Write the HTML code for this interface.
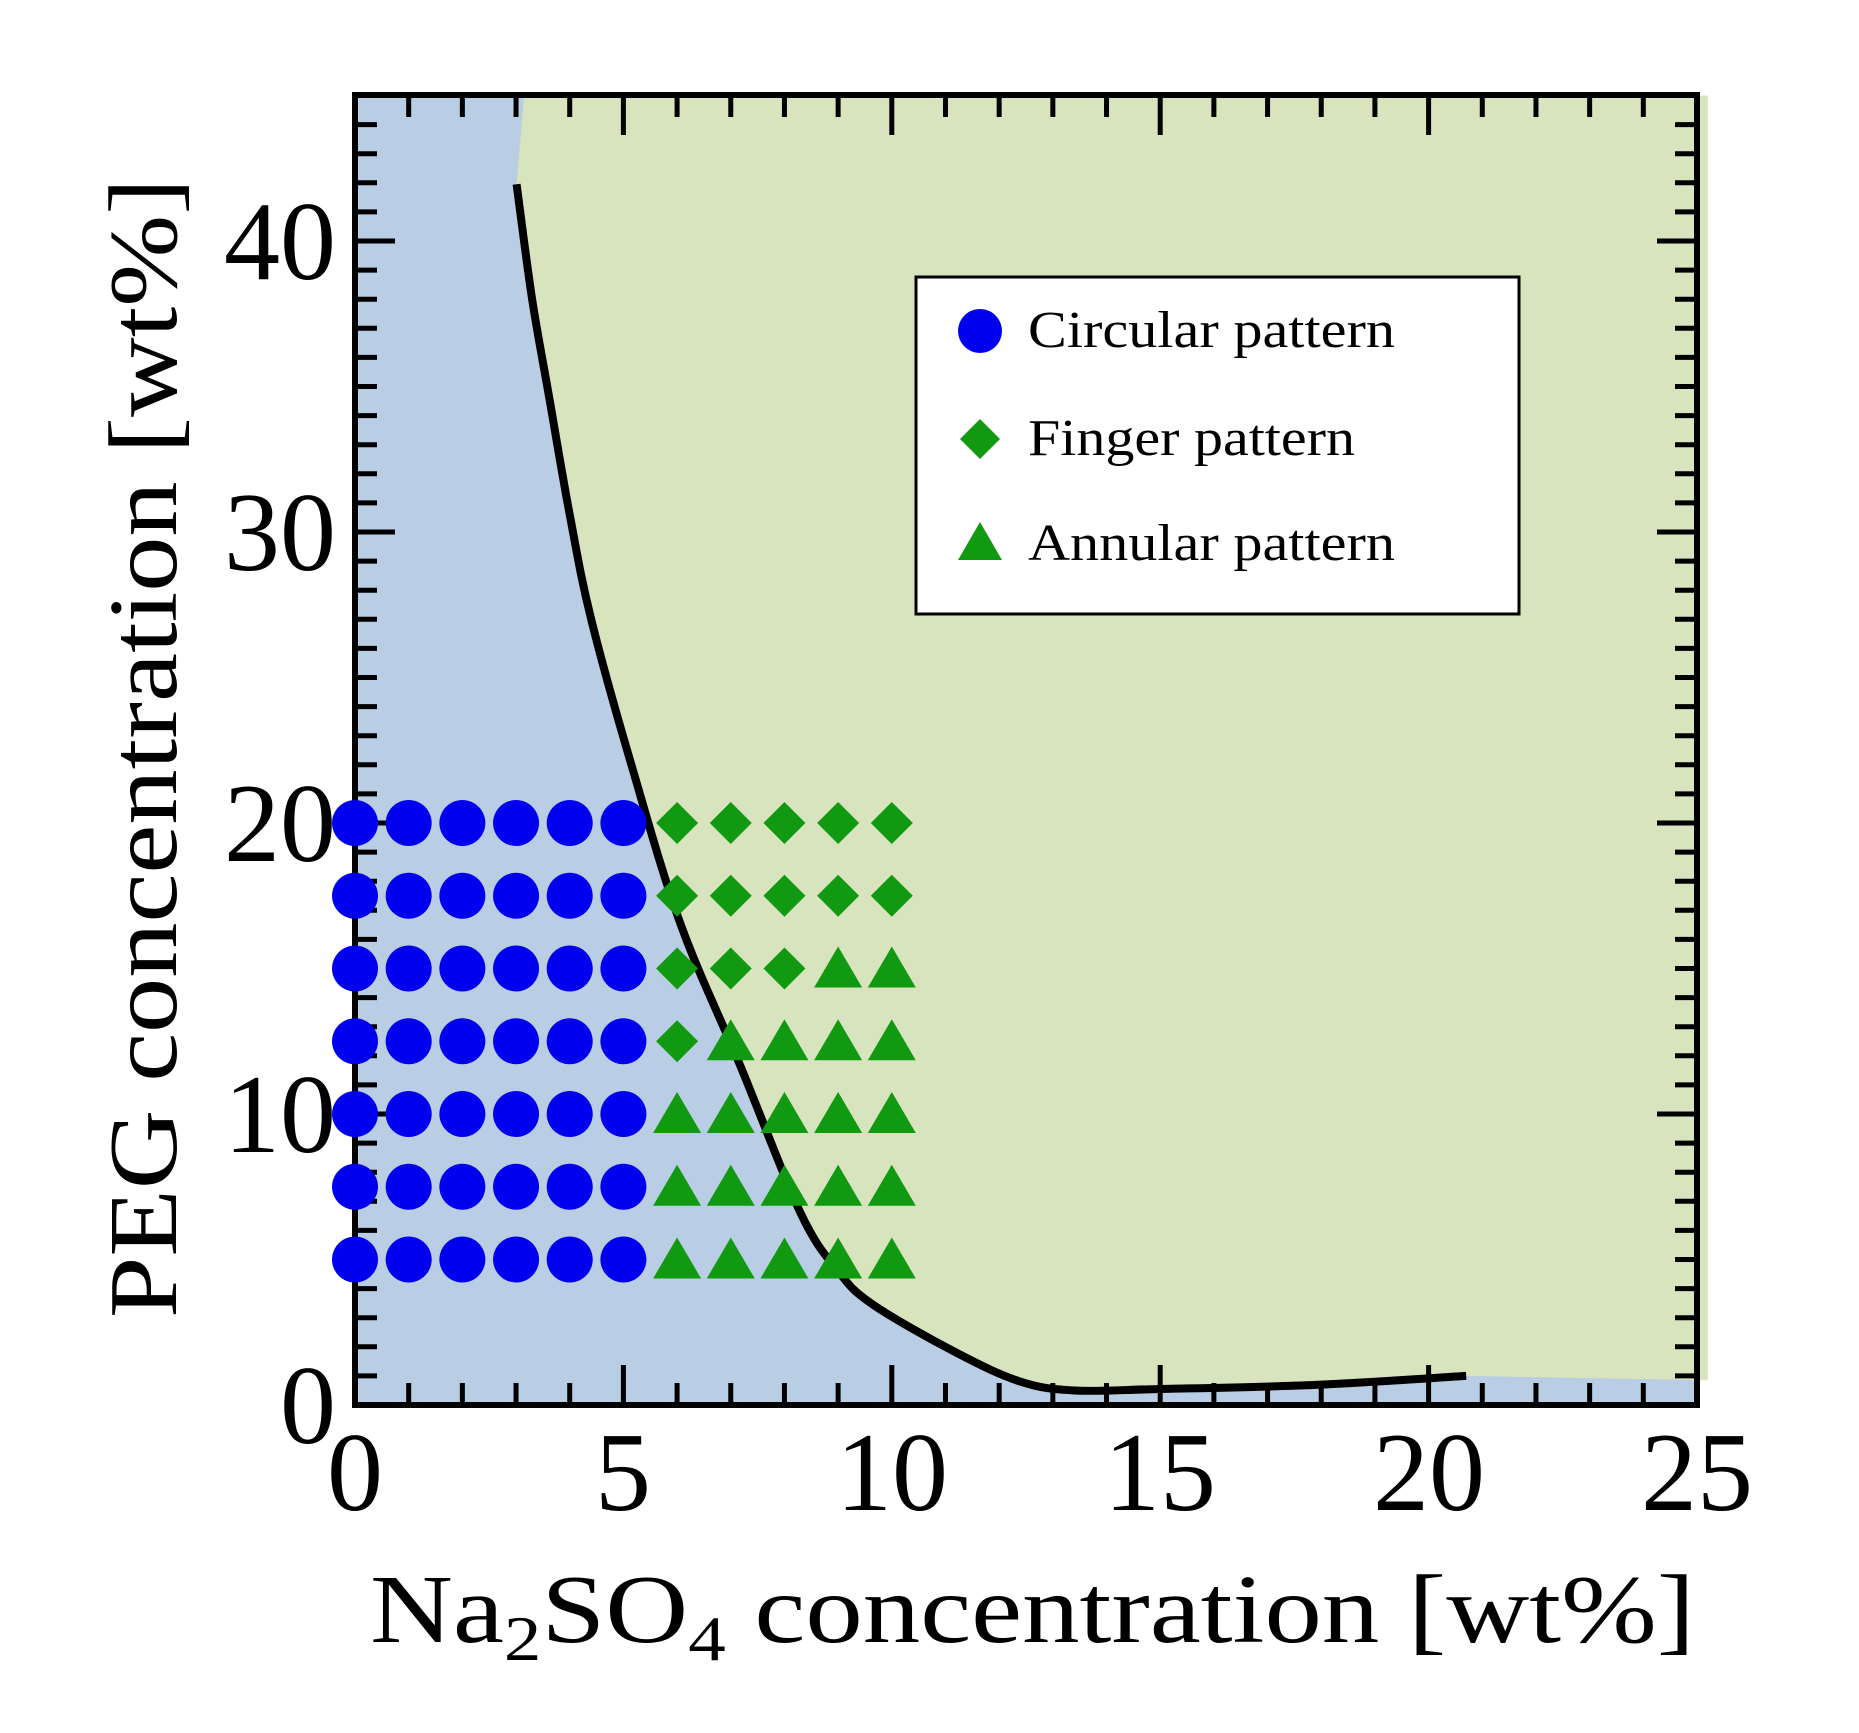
<!DOCTYPE html>
<html><head><meta charset="utf-8"><style>
html,body{margin:0;padding:0;background:#fff;}
svg{display:block;}
text{font-family:"Liberation Serif",serif;fill:#000;}
</style></head><body>
<svg id="s" width="1859" height="1733" viewBox="0 0 1859 1733" xmlns="http://www.w3.org/2000/svg">
<rect x="0" y="0" width="1859" height="1733" fill="#fff"/>
<g id="plot"></g>
<rect x="916" y="277" width="603" height="337" fill="#fff" stroke="#000" stroke-width="3"/>
<circle cx="980" cy="331" r="22" fill="#0000ee"/>
<polygon points="980,419 1000,439 980,459 960,439" fill="#119911"/>
<polygon points="980,522 1002,560 958,560" fill="#119911"/>
<text x="1028" y="347" font-size="52" textLength="367" lengthAdjust="spacingAndGlyphs">Circular pattern</text>
<text x="1028" y="455" font-size="52" textLength="327" lengthAdjust="spacingAndGlyphs">Finger pattern</text>
<text x="1028" y="560" font-size="52" textLength="367" lengthAdjust="spacingAndGlyphs">Annular pattern</text>
<g font-size="112" text-anchor="end">
<text x="336" y="1443">0</text>
<text x="336" y="1152">10</text>
<text x="336" y="861">20</text>
<text x="336" y="570">30</text>
<text x="336" y="279">40</text>
</g>
<g font-size="112" text-anchor="middle">
<text x="355" y="1510">0</text>
<text x="623" y="1510">5</text>
<text x="892" y="1510">10</text>
<text x="1160" y="1510">15</text>
<text x="1429" y="1510">20</text>
<text x="1697" y="1510">25</text>
</g>
<text x="370" y="1642" font-size="98" textLength="1325" lengthAdjust="spacingAndGlyphs">Na<tspan font-size="64" dy="18">2</tspan><tspan dy="-18">SO</tspan><tspan font-size="64" dy="18">4</tspan><tspan dy="-18"> concentration [wt%]</tspan></text>
<text transform="translate(176,1318) rotate(-90)" font-size="98" textLength="1140" lengthAdjust="spacingAndGlyphs">PEG concentration [wt%]</text>
</svg>
<script>
var NS="http://www.w3.org/2000/svg",g=document.getElementById("plot");
function X(v){return 355+v*53.68;}function Y(v){return 1405-v*29.1;}
function el(t,a){var e=document.createElementNS(NS,t);for(var k in a)e.setAttribute(k,a[k]);g.appendChild(e);return e;}
el("rect",{x:355,y:95,width:1342,height:1310,fill:"#b9cde4"});
var c=[[3.01,41.95],[3.3,38.0],[3.62,34.6],[4.0,30.6],[4.4,27.0],[5.18,21.8],[6.07,16.5],[7.19,11.6],[8.3,6.6],[9.0,4.6],[9.64,3.46],[11.2,1.8],[12.4,0.8],[13.4,0.5],[15,0.55],[17.9,0.69],[20.7,1.0]];
var d="M"+X(3.15)+","+Y(45);
c.forEach(function(p){d+=" L"+X(p[0]).toFixed(1)+","+Y(p[1]).toFixed(1);});
d+=" L"+X(25.2)+","+Y(0.85)+" L"+X(25.2)+","+Y(45)+"Z";
el("path",{d:d,fill:"#d7e4bd"});
var cd="M"+X(c[0][0])+","+Y(c[0][1]);
for(var i=0;i<c.length-1;i++){var p0=c[Math.max(0,i-1)],p1=c[i],p2=c[i+1],p3=c[Math.min(c.length-1,i+2)];
var a=[X(p1[0])+(X(p2[0])-X(p0[0]))/6,Y(p1[1])+(Y(p2[1])-Y(p0[1]))/6],b=[X(p2[0])-(X(p3[0])-X(p1[0]))/6,Y(p2[1])-(Y(p3[1])-Y(p1[1]))/6];
cd+=" C"+a[0].toFixed(1)+","+a[1].toFixed(1)+" "+b[0].toFixed(1)+","+b[1].toFixed(1)+" "+X(p2[0]).toFixed(1)+","+Y(p2[1]).toFixed(1);}
el("path",{d:cd,fill:"none",stroke:"#000","stroke-width":8});
for(var v=1;v<25;v++){var L=(v%5==0)?40:22,x=X(v);
el("line",{x1:x,y1:1405,x2:x,y2:1405-L,stroke:"#000","stroke-width":5});
el("line",{x1:x,y1:95,x2:x,y2:95+L,stroke:"#000","stroke-width":5});}
for(var v=1;v<45;v++){var L=(v%10==0)?40:22,y=Y(v);
el("line",{x1:355,y1:y,x2:355+L,y2:y,stroke:"#000","stroke-width":5});
el("line",{x1:1697,y1:y,x2:1697-L,y2:y,stroke:"#000","stroke-width":5});}
el("rect",{x:355,y:95,width:1342,height:1310,fill:"none",stroke:"#000","stroke-width":6});
var rows=[20,17.5,15,12.5,10,7.5,5],nd=[5,5,3,1,0,0,0];
rows.forEach(function(yv,ri){
 for(var xv=0;xv<=5;xv++)el("circle",{cx:X(xv),cy:Y(yv),r:23,fill:"#0000ee"});
 for(var k=0;k<5;k++){var x=X(6+k),y=Y(yv);
  if(k<nd[ri])el("polygon",{points:x+","+(y-21)+" "+(x+21)+","+y+" "+x+","+(y+21)+" "+(x-21)+","+y,fill:"#119911"});
  else el("polygon",{points:x+","+(y-22)+" "+(x+24)+","+(y+19)+" "+(x-24)+","+(y+19),fill:"#119911"});}
});
</script>
</body></html>
